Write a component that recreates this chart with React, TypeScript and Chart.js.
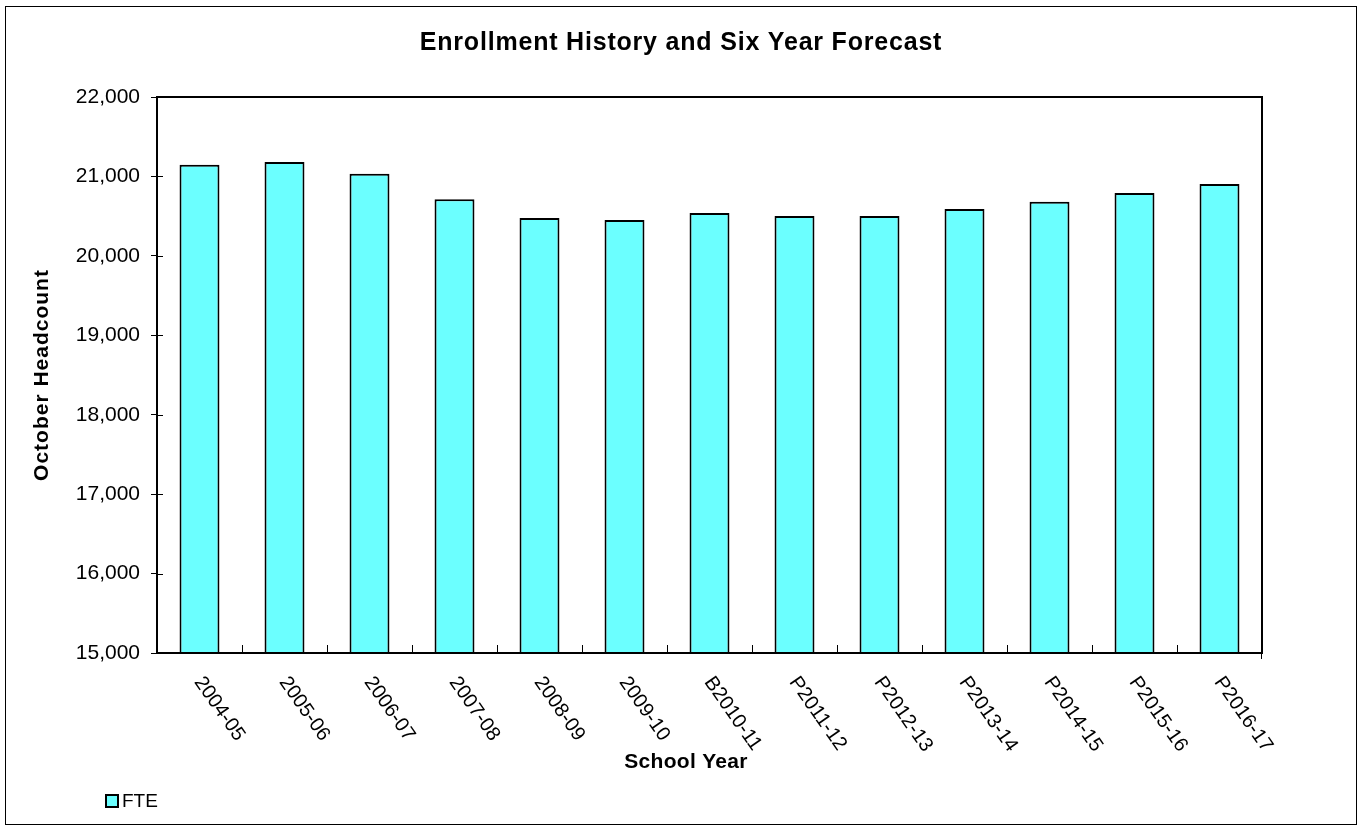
import React, { useEffect, useRef } from "react";
import Chart from "chart.js/auto";

const schoolYears: string[] = [
  "2004-05", "2005-06", "2006-07", "2007-08", "2008-09", "2009-10",
  "B2010-11", "P2011-12", "P2012-13", "P2013-14", "P2014-15", "P2015-16", "P2016-17",
];
const fteValues: number[] = [
  21148, 21182, 21035, 20712, 20477, 20451, 20540, 20502, 20502, 20590, 20682, 20791, 20905,
];
const yMin = 15000;
const yMax = 22000;
const yStep = 1000;
const chartTitle = "Enrollment History and Six Year Forecast";
const yAxisTitle = "October Headcount";
const xAxisTitle = "School Year";
const seriesName = "FTE";

const FONT = "'Liberation Sans', Arial, sans-serif";
const W = 1362;
const H = 830;

const decorPlugin = {
  id: "decor",
  afterDraw(chart: any) {
    const ctx: any = chart.ctx;
    const a = chart.chartArea;
    const xs = chart.scales.x;
    const ys = chart.scales.y;
    const line = (x1: number, y1: number, x2: number, y2: number) => {
      ctx.beginPath();
      ctx.moveTo(x1, y1);
      ctx.lineTo(x2, y2);
      ctx.stroke();
    };
    ctx.save();
    ctx.strokeStyle = "#000";
    // outer border
    ctx.lineWidth = 1;
    ctx.strokeRect(5.5, 6.5, W - 11, H - 12);
    // plot border
    ctx.lineWidth = 2;
    ctx.strokeRect(a.left, a.top, a.right - a.left, a.bottom - a.top);
    // x ticks at category boundaries (inside)
    ctx.lineWidth = 1;
    const labels: string[] = chart.data.labels;
    const n = labels.length;
    for (let i = 1; i < n; i++) {
      const px = Math.round((xs.getPixelForValue(i - 1) + xs.getPixelForValue(i)) / 2) + 0.5;
      line(px, a.bottom, px, a.bottom - 8);
    }
    line(a.right - 0.5, a.bottom, a.right - 0.5, a.bottom + 6);
    // inner part of y ticks
    ys.ticks.forEach((_t: any, i: number) => {
      const py = Math.round(ys.getPixelForTick(i)) + 0.5;
      line(a.left, py, a.left + 6, py);
    });
    // rotated x labels
    ctx.fillStyle = "#000";
    ctx.font = `20px ${FONT}`;
    ctx.textAlign = "left";
    ctx.textBaseline = "top";
    for (let i = 0; i < n; i++) {
      const px = xs.getPixelForValue(i);
      ctx.save();
      ctx.translate(px + 7, a.bottom + 20);
      ctx.rotate((55 * Math.PI) / 180);
      ctx.fillText(labels[i], 0, 0);
      ctx.restore();
    }
    // chart title
    ctx.textAlign = "center";
    ctx.textBaseline = "middle";
    ctx.font = `bold 25px ${FONT}`;
    ctx.letterSpacing = "0.8px";
    ctx.fillText(chartTitle, W / 2, 43);
    // x axis title
    ctx.font = `bold 21px ${FONT}`;
    ctx.letterSpacing = "0.3px";
    ctx.fillText(xAxisTitle, 686, 762);
    // y axis title
    ctx.letterSpacing = "1px";
    ctx.save();
    ctx.translate(42, (a.top + a.bottom) / 2);
    ctx.rotate(-Math.PI / 2);
    ctx.fillText(yAxisTitle, 0, 0);
    ctx.restore();
    ctx.letterSpacing = "0px";
    // legend
    const ds = chart.data.datasets[0];
    ctx.fillStyle = ds.backgroundColor;
    ctx.fillRect(106, 795, 12, 12);
    ctx.lineWidth = 2;
    ctx.strokeRect(106, 795, 12, 12);
    ctx.fillStyle = "#000";
    ctx.font = `19px ${FONT}`;
    ctx.textAlign = "left";
    ctx.fillText(ds.label, 122, 802);
    ctx.restore();
  },
};

export default function App() {
  const ref = useRef<HTMLCanvasElement | null>(null);
  useEffect(() => {
    if (!ref.current) return;
    const chart = new Chart(ref.current, {
      type: "bar",
      data: {
        labels: schoolYears,
        datasets: [
          {
            label: seriesName,
            data: fteValues,
            backgroundColor: "#6BFFFF",
            borderColor: "#000",
            borderWidth: 2,
            barPercentage: 0.47,
            categoryPercentage: 1,
            borderSkipped: false,
          },
        ],
      },
      options: {
        animation: false,
        responsive: false,
        devicePixelRatio: 1,
        layout: { padding: { left: 0, top: 97, right: W - 1262, bottom: 0 } },
        plugins: {
          legend: { display: false },
          title: { display: false },
          tooltip: { enabled: false },
        },
        scales: {
          x: {
            type: "category",
            offset: true,
            grid: { display: false },
            border: { display: false },
            ticks: { display: false },
            afterFit: (s: any) => {
              s.height = H - 653;
            },
          },
          y: {
            min: yMin,
            max: yMax,
            ticks: {
              stepSize: yStep,
              color: "#000",
              font: { family: FONT, size: 21 },
              padding: 11,
              callback: (v: any) => Number(v).toLocaleString("en-US"),
            },
            grid: {
              display: true,
              drawOnChartArea: false,
              drawTicks: true,
              tickLength: 6,
              color: "#000",
              lineWidth: 1,
            },
            border: { display: true, color: "#000", width: 2 },
            afterFit: (s: any) => {
              s.width = 157;
            },
          },
        },
      },
      plugins: [decorPlugin],
    });
    return () => chart.destroy();
  }, []);
  return (
    <div style={{ position: "absolute", left: 0, top: 0, width: W, height: H, background: "#fff" }}>
      <canvas ref={ref} width={W} height={H} style={{ width: W, height: H }} />
    </div>
  );
}
